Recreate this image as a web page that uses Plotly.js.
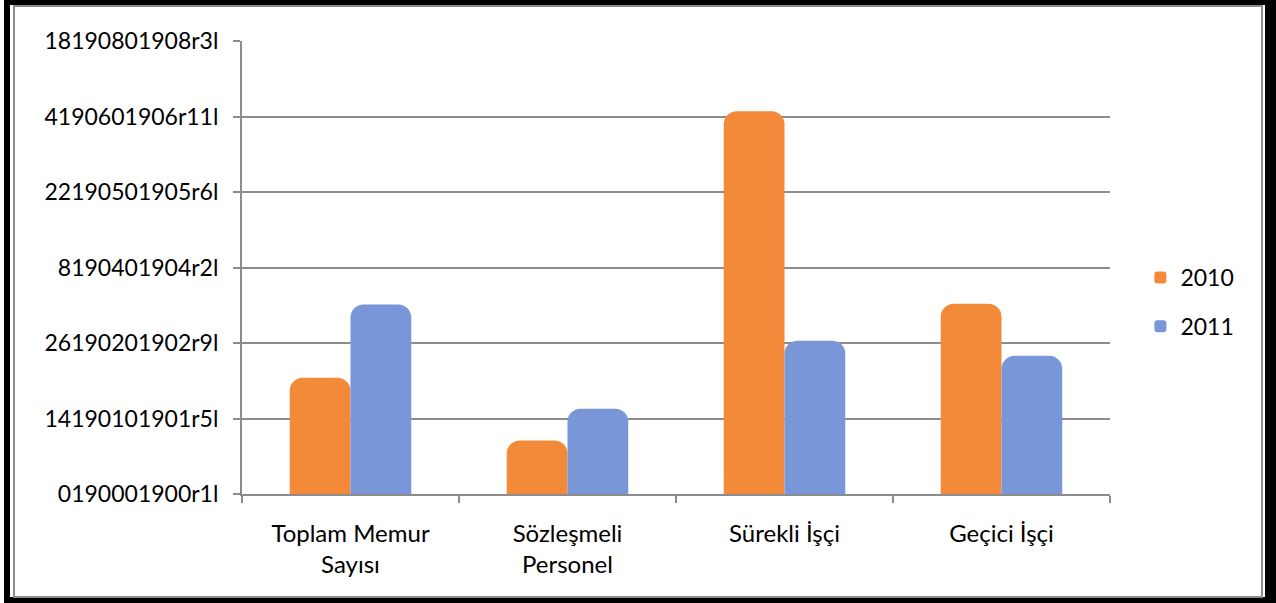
<!DOCTYPE html>
<html>
<head>
<meta charset="utf-8">
<script src="https://cdn.plot.ly/plotly-3.0.1.min.js"></script>
<style>
  html, body { margin: 0; padding: 0; background: #ffffff; }
  #chart { position: absolute; left: 0; top: 0; width: 1276px; height: 603px; }
  .frame { position: absolute; pointer-events: none; box-sizing: border-box; }
</style>
</head>
<body>
<div id="chart"></div>
<div class="frame" style="left:4px;top:0;width:1272px;height:603px;border-style:solid;border-color:#000;border-width:5px 11px 6px 6px;"></div>
<div class="frame" style="left:13px;top:5px;width:1250px;height:593px;border:2px solid #8c8c8c;"></div>
<script>
const categories = ["Toplam Memur<br>Sayısı", "Sözleşmeli<br>Personel", "Sürekli İşçi", "Geçici İşçi"];
const values2010 = [1.54, 0.71, 5.07, 2.52];
const values2011 = [2.51, 1.13, 2.03, 1.83];
const yTickVals = [0, 1, 2, 3, 4, 5, 6];
const yTickText = ["0190001900r1l", "14190101901r5l", "26190201902r9l", "8190401904r2l",
                   "22190501905r6l", "4190601906r11l", "18190801908r3l"];

const FONT = "Lato, 'Open Sans', sans-serif";
const traces = [
  { type: "bar", name: "2010", x: categories, y: values2010, legendgroup: "a",
    marker: { color: "#F28A3A" } },
  { type: "bar", name: "2011", x: categories, y: values2011, legendgroup: "b",
    marker: { color: "#7896D8" } }
];

const layout = {
  width: 1276, height: 603,
  margin: { l: 242, r: 166, t: 41, b: 109 },
  paper_bgcolor: "rgba(0,0,0,0)", plot_bgcolor: "#ffffff",
  font: { family: FONT, size: 23, color: "#000" },
  barmode: "group", bargap: 0.44, bargroupgap: 0, barcornerradius: 13,
  showlegend: true,
  legend: { x: 1.035, y: 0.424, xanchor: "left", yanchor: "middle",
            font: { size: 23, family: FONT }, tracegroupgap: 16, traceorder: "grouped",
            bgcolor: "rgba(0,0,0,0)", itemwidth: 30 },
  xaxis: { type: "category", showline: true, linecolor: "#8c8c8c", linewidth: 2,
           ticks: "outside", tickson: "boundaries", ticklen: 7, tickwidth: 2, tickcolor: "#8c8c8c",
           showgrid: false, tickfont: { size: 24, family: FONT }, ticklabelstandoff: 17 },
  yaxis: { range: [0, 6], tickvals: yTickVals, ticktext: yTickText,
           showline: true, linecolor: "#8c8c8c", linewidth: 2,
           ticks: "outside", ticklen: 7, tickwidth: 2, tickcolor: "#8c8c8c",
           gridcolor: "#8c8c8c", gridwidth: 2, zeroline: false,
           tickfont: { size: 23, family: FONT }, ticklabelstandoff: 10 }
};

Plotly.newPlot("chart", traces, layout, { displayModeBar: false, staticPlot: true });
</script>
</body>
</html>
